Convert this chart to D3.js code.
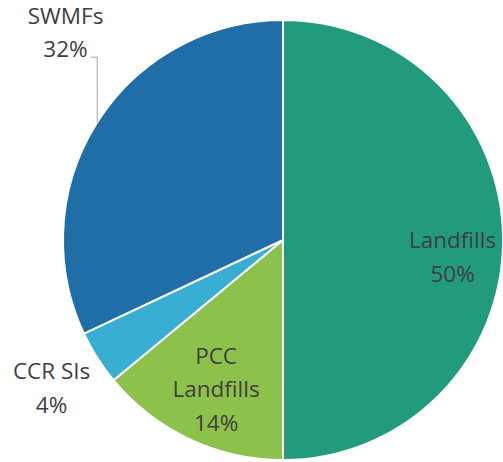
<!DOCTYPE html>
<html>
<head>
<meta charset="utf-8">
<script src="https://cdn.jsdelivr.net/npm/d3@7"></script>
<style>
  body { margin: 0; background: #fff; }
  svg { display: block; }
  .label { font-family: "Open Sans", sans-serif; font-size: 22.5px; fill: #404040; }
</style>
</head>
<body>
<svg width="503" height="462"></svg>
<script>
// data
var categories = ['Landfills', 'PCC Landfills', 'CCR SIs', 'SWMFs'];
var shares = [50, 14, 4, 32];
var labelLines = [['Landfills', '50%'], ['PCC', 'Landfills', '14%'], ['CCR SIs', '4%'], ['SWMFs', '32%']];

var colors = ['#219b7b', '#8cc14b', '#38afd2', '#1f6ea8'];
// label placement: radius as fraction of R, angle nudge in degrees
var labelPlace = [{ r: 0.775, da: 5.9 }, { r: 0.745, da: -1.1 }, { r: 1.25, da: -0.3 }, { r: 1.365, da: 11.2 }];

var svg = d3.select('svg'),
    cx = 283, cy = 240, R = 220;

var g = svg.append('g').attr('transform', 'translate(' + cx + ',' + cy + ')');

var pie = d3.pie().sort(null).value(function(d) { return d; });
var arcs = pie(shares);

var arc = d3.arc().innerRadius(0).outerRadius(R);

g.selectAll('path.slice')
    .data(arcs)
  .enter().append('path')
    .attr('class', 'slice')
    .attr('d', arc)
    .attr('fill', function(d, i) { return colors[i]; })
    .attr('stroke', '#fff')
    .attr('stroke-width', 2)
    .attr('stroke-linejoin', 'round');

var lineH = 33.5, capOff = 7.5;

var labels = g.selectAll('text.label')
    .data(arcs)
  .enter().append('text')
    .attr('class', 'label')
    .attr('text-anchor', 'middle')
    .each(function(d, i) {
      var a = (d.startAngle + d.endAngle) / 2 + labelPlace[i].da * Math.PI / 180,
          r = labelPlace[i].r * R,
          x = Math.sin(a) * r,
          y = -Math.cos(a) * r,
          lines = labelLines[i],
          y0 = y - (lines.length - 1) * lineH / 2 + capOff;
      var t = d3.select(this);
      lines.forEach(function(s, k) {
        t.append('tspan').attr('x', x).attr('y', y0 + k * lineH).text(s);
      });
    });

// leader line for SWMFs
var swmf = labels.filter(function(d, i) { return categories[i] === 'SWMFs'; });
var lastSpan = swmf.selectAll('tspan').nodes().pop();
var bb = lastSpan.getBBox();
var ly = +d3.select(lastSpan).attr('y'),
    lx0 = bb.x + bb.width + 3,
    lx1 = lx0 + 6.5,
    ey = -Math.sqrt(R * R - lx1 * lx1);

g.append('path')
    .attr('d', 'M' + lx0 + ',' + ly + ' L' + lx1 + ',' + ly + ' L' + lx1 + ',' + ey)
    .attr('fill', 'none')
    .attr('stroke', '#a6a6a6')
    .attr('stroke-width', 1);
</script>
</body>
</html>
